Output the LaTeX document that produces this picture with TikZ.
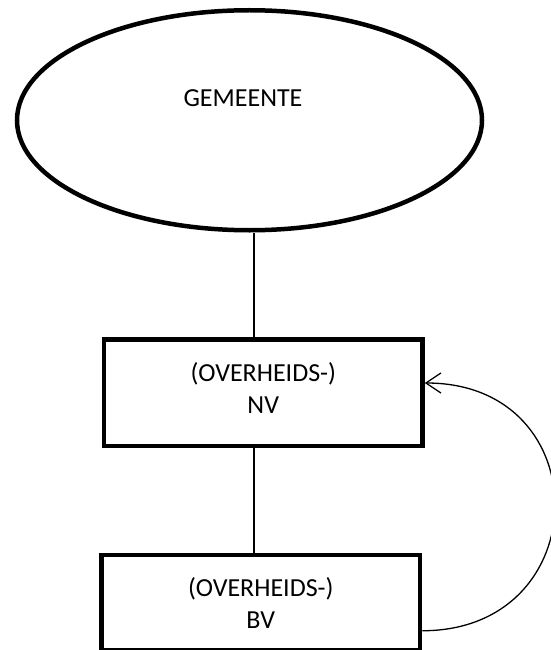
\documentclass[tikz,border=0pt]{standalone}
\usepackage{fontspec}
\setmainfont{Carlito}
\usetikzlibrary{shapes.geometric,arrows.meta}
\begin{document}
\begin{tikzpicture}[x=1pt,y=-1pt,
  every node/.style={font=\fontsize{26}{32}\selectfont, align=center, inner sep=0pt},
  ovalshape/.style={draw, ellipse, line width=4.5pt, minimum width=465pt, minimum height=220pt},
  boxshape/.style={draw, rectangle, line width=4.5pt, minimum width=318.5pt},
  conn/.style={line width=2.3pt},
  loopconn/.style={line width=1.3pt, -{Straight Barb[length=15pt,width=20pt,line width=1.3pt]}}
]
\useasboundingbox (0,0) rectangle (550,650);
\node[ovalshape] (gem) at (249.5,120.25) {};
\node (gemtext) at (243,98.5) {GEMEENTE};
\node[boxshape, minimum height=106.5pt] (nv) at (263.25,392.75) {};
\node (nvtext) at ([yshift=5pt]nv.center) {(OVERHEIDS-)\\NV};
\node[boxshape, minimum height=95.5pt] (bv) at (260.75,602.75) {(OVERHEIDS-)\\BV};
\coordinate (spine) at (253.8,0);
\draw[conn] (spine |- gem.south) -- (spine |- nv.north);
\draw[conn] (spine |- nv.south) -- (spine |- bv.north);
\draw[loopconn] ([yshift=-28pt]bv.east) .. controls +(175,0) and +(175,0) .. ([yshift=9.75pt]nv.east);
\end{tikzpicture}
\end{document}
